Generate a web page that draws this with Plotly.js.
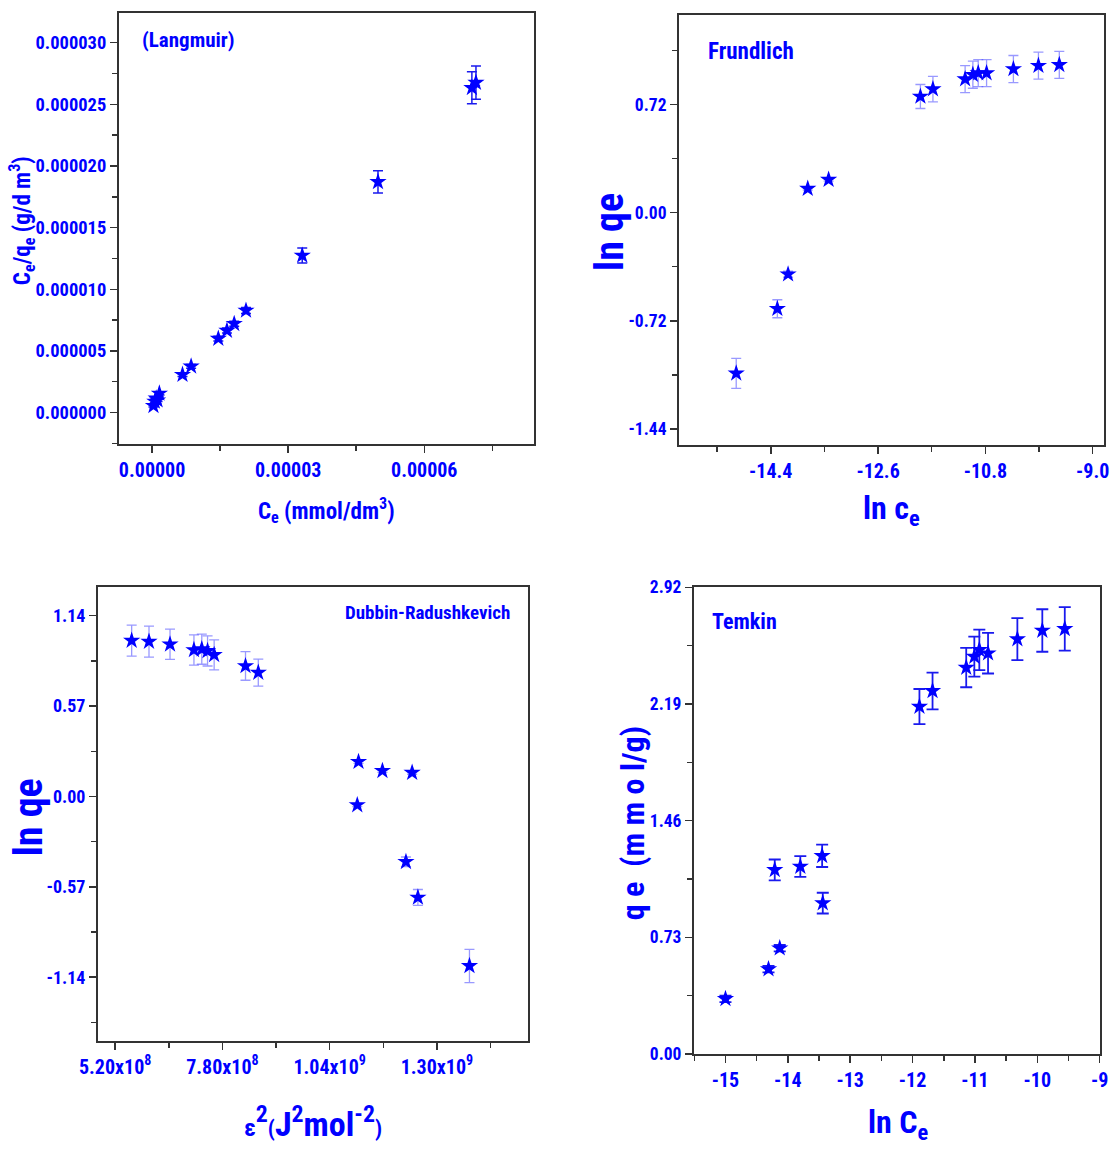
<!DOCTYPE html>
<html><head><meta charset="utf-8">
<script src="https://cdn.plot.ly/plotly-3.0.1.min.js"></script>
<style>html,body{margin:0;padding:0;background:#fff}#chart{width:1110px;height:1149px}</style>
</head><body><div id="chart"></div>
<script>
// ---------- Langmuir ----------
const langmuirCe  = [0.3e-6, 0.6e-6, 0.9e-6, 1.2e-6, 1.6e-6, 6.7e-6, 8.6e-6, 14.6e-6, 16.5e-6, 18.1e-6, 20.7e-6, 33.1e-6, 49.8e-6, 70.5e-6, 71.4e-6];
const langmuirCq  = [0.55e-6, 0.9e-6, 1.15e-6, 1.0e-6, 1.55e-6, 3.07e-6, 3.75e-6, 6.0e-6, 6.65e-6, 7.2e-6, 8.28e-6, 12.74e-6, 18.71e-6, 26.34e-6, 26.76e-6];
const langmuirErr = [0.1e-6, 0.1e-6, 0.1e-6, 0.1e-6, 0.1e-6, 0.15e-6, 0.15e-6, 0.2e-6, 0.2e-6, 0.2e-6, 0.25e-6, 0.6e-6, 0.9e-6, 1.3e-6, 1.35e-6];
const langmuirXTickVals = [0, 3e-5, 6e-5];
const langmuirXTickText = ['0.00000', '0.00003', '0.00006'];
const langmuirYTickVals = [0, 5e-6, 1e-5, 1.5e-5, 2e-5, 2.5e-5, 3e-5];
const langmuirYTickText = ['0.000000', '0.000005', '0.000010', '0.000015', '0.000020', '0.000025', '0.000030'];

// ---------- Frundlich ----------
const frundlichLnCe = [-14.98, -14.29, -14.11, -13.78, -13.43, -11.89, -11.68, -11.14, -11.01, -10.92, -10.78, -10.33, -9.91, -9.56];
const frundlichLnQe = [-1.07, -0.64, -0.41, 0.16, 0.22, 0.774, 0.823, 0.89, 0.919, 0.93, 0.93, 0.957, 0.979, 0.985];
const frundlichErr  = [0.10, 0.06, 0.02, 0.01, 0.01, 0.08, 0.085, 0.09, 0.09, 0.09, 0.09, 0.09, 0.09, 0.09];
const frundlichXTickVals = [-14.4, -12.6, -10.8, -9.0];
const frundlichXTickText = ['-14.4', '-12.6', '-10.8', '-9.0'];
const frundlichYTickVals = [-1.44, -0.72, 0, 0.72];
const frundlichYTickText = ['-1.44', '-0.72', '0.00', '0.72'];

// ---------- Dubinin-Radushkevich ----------
const drEps2 = [5.60e8, 6.02e8, 6.53e8, 7.11e8, 7.30e8, 7.44e8, 7.60e8, 8.36e8, 8.67e8, 1.107e9, 1.110e9, 1.168e9, 1.225e9, 1.240e9, 1.254e9, 1.379e9];
const drLnQe = [0.983, 0.977, 0.960, 0.924, 0.929, 0.918, 0.893, 0.823, 0.781, -0.054, 0.219, 0.162, -0.412, 0.150, -0.637, -1.069];
const drErr  = [0.098, 0.098, 0.095, 0.095, 0.095, 0.095, 0.095, 0.09, 0.085, 0.01, 0.01, 0.01, 0.03, 0.01, 0.05, 0.105];
const drXTickVals = [5.2e8, 7.8e8, 1.04e9, 1.30e9];
const drXTickText = ['5.20x10<sup>8</sup>', '7.80x10<sup>8</sup>', '1.04x10<sup>9</sup>', '1.30x10<sup>9</sup>'];
const drYTickVals = [-1.14, -0.57, 0, 0.57, 1.14];
const drYTickText = ['-1.14', '-0.57', '0.00', '0.57', '1.14'];

// ---------- Temkin ----------
const temkinLnCe = [-15.0, -14.31, -14.13, -14.21, -13.80, -13.45, -13.44, -11.89, -11.68, -11.14, -11.01, -10.93, -10.79, -10.32, -9.92, -9.56];
const temkinQe   = [0.345, 0.531, 0.662, 1.152, 1.173, 1.240, 0.944, 2.174, 2.272, 2.418, 2.487, 2.529, 2.508, 2.596, 2.650, 2.660];
const temkinErr  = [0.02, 0.02, 0.02, 0.065, 0.065, 0.07, 0.065, 0.11, 0.115, 0.123, 0.125, 0.127, 0.127, 0.131, 0.133, 0.136];
const temkinXTickVals = [-15, -14, -13, -12, -11, -10, -9];
const temkinXTickText = ['-15', '-14', '-13', '-12', '-11', '-10', '-9'];
const temkinYTickVals = [0, 0.73, 1.46, 2.19, 2.92];
const temkinYTickText = ['0.00', '0.73', '1.46', '2.19', '2.92'];

const FONT = '"Liberation Sans Narrow", "Arial Narrow", "Roboto Condensed", "Liberation Sans", Arial, sans-serif';
const BLUE = '#0000ff';

function stars(x, y, err, xa, ya, errColor, thick, w) {
  return {
    type: 'scatter', mode: 'markers', x: x, y: y, xaxis: xa, yaxis: ya,
    marker: {symbol: 'star', size: 13, color: BLUE, line: {width: 0}},
    error_y: {type: 'data', array: err, visible: true, color: errColor, thickness: thick, width: w},
    hoverinfo: 'skip', showlegend: false
  };
}

function axis(domain, anchor, range, tickvals, ticktext, mTick0, mDtick, fsize) {
  return {
    domain: domain, anchor: anchor, range: range,
    tickmode: 'array', tickvals: tickvals, ticktext: ticktext,
    showline: true, mirror: true, linecolor: '#333', linewidth: 2,
    ticks: 'outside', ticklen: 7, tickwidth: 1.5, tickcolor: '#333',
    showgrid: false, zeroline: false,
    tickfont: {family: FONT, size: fsize, color: BLUE, weight: 'bold'},
    minor: {ticks: 'outside', ticklen: 5, tickwidth: 1.5, tickcolor: '#333',
            tickmode: 'linear', tick0: mTick0, dtick: mDtick, showgrid: false}
  };
}

const data = [
  stars(langmuirCe, langmuirCq, langmuirErr, 'x', 'y', '#1a1aee', 1.5, 5),
  stars(frundlichLnCe, frundlichLnQe, frundlichErr, 'x2', 'y2', 'rgba(70,70,255,0.55)', 1.3, 5),
  stars(drEps2, drLnQe, drErr, 'x3', 'y3', 'rgba(70,70,255,0.55)', 1.3, 5),
  stars(temkinLnCe, temkinQe, temkinErr, 'x4', 'y4', '#1a1aee', 1.8, 6)
];

function ann(text, x, y, size, opts) {
  return Object.assign({
    text: text, x: x, y: y, xref: 'paper', yref: 'paper', showarrow: false,
    xanchor: 'center', yanchor: 'middle',
    font: {family: FONT, size: size, color: BLUE, weight: 'bold'}
  }, opts || {});
}

const NB = '\u00a0';
const annotations = [
  // axis titles
  ann('C<sub>e</sub>/q<sub>e</sub> (g/d m<sup>3</sup>)', 0.0200, 0.8077, 23, {textangle: -90}),
  ann('C<sub>e</sub> (mmol/dm<sup>3</sup>)', 0.2937, 0.5553, 23),
  ann('ln qe', 0.5495, 0.7981, 40, {textangle: -90}),
  ann('ln c<sub>e</sub>', 0.8036, 0.5561, 32),
  ann('ln qe', 0.0255, 0.2889, 40, {textangle: -90}),
  ann('<span style="font-size:24px">ε</span><sup>2</sup><span style="font-size:22px">(</span>J<sup>2</sup>mol<sup>-2</sup><span style="font-size:22px">)</span>', 0.2820, 0.0235, 34),
  ann('q e ' + NB + '(m m o l/g)', 0.5705, 0.2837, 32, {textangle: -90}),
  ann('ln C<sub>e</sub>', 0.8090, 0.0017, 32, {yanchor: 'bottom'}),
  // panel labels
  ann('(Langmuir)', 0.1261, 0.9652, 21, {xanchor: 'left'}),
  ann('Frundlich', 0.6360, 0.9552, 23, {xanchor: 'left'}),
  ann('Dubbin-Radushkevich', 0.4613, 0.4665, 19, {xanchor: 'right'}),
  ann('Temkin', 0.6396, 0.4595, 22, {xanchor: 'left'})
];

const layout = {
  width: 1110, height: 1149,
  margin: {l: 0, r: 0, t: 0, b: 0, pad: 0},
  paper_bgcolor: '#ffffff', plot_bgcolor: '#ffffff',
  showlegend: false,
  font: {family: FONT, color: BLUE},
  xaxis:  axis([0.1072, 0.4811], 'y',  [-7.3e-6, 8.42e-5], langmuirXTickVals, langmuirXTickText, 0, 1.5e-5, 20),
  yaxis:  axis([0.6140, 0.9889], 'x',  [-2.51e-6, 3.243e-5], langmuirYTickVals, langmuirYTickText, 0, 2.5e-6, 18.5),
  xaxis2: axis([0.6117, 0.9946], 'y2', [-15.94, -8.81], frundlichXTickVals, frundlichXTickText, -9, 0.9, 20),
  yaxis2: axis([0.6129, 0.9871], 'x2', [-1.546, 1.318], frundlichYTickVals, frundlichYTickText, 0, 0.36, 17.5),
  xaxis3: axis([0.0883, 0.4757], 'y3', [4.784e8, 1.521e9], drXTickVals, drXTickText, 5.2e8, 1.3e8, 20),
  yaxis3: axis([0.0942, 0.4895], 'x3', [-1.541, 1.324], drYTickVals, drYTickText, 0, 0.285, 18),
  xaxis4: axis([0.6252, 0.9910], 'y4', [-15.505, -8.995], temkinXTickVals, temkinXTickText, -15, 0.5, 20),
  yaxis4: axis([0.0827, 0.4888], 'x4', [0, 2.92], temkinYTickVals, temkinYTickText, 0, 0.365, 17.5),
  annotations: annotations
};

Plotly.newPlot('chart', data, layout, {displayModeBar: false, staticPlot: true});
</script>
</body></html>
